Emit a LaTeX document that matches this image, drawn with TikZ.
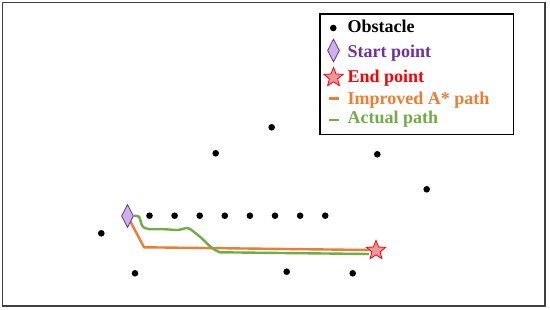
\documentclass[tikz,border=0pt]{standalone}
\usepackage{fontspec}
\setmainfont{Liberation Serif}
\usetikzlibrary{shapes.geometric, backgrounds, positioning}
\definecolor{framegray}{RGB}{64, 64, 64}
\definecolor{startpurple}{RGB}{112, 48, 160}
\definecolor{startfill}{RGB}{204, 178, 232}
\definecolor{endred}{RGB}{255, 0, 0}
\definecolor{endfill}{RGB}{240, 150, 160}
\definecolor{astarorange}{RGB}{237, 125, 49}
\definecolor{actualgreen}{RGB}{112, 173, 71}

\begin{document}
\begin{tikzpicture}[
    x=1pt, y=-1pt,
    obstacle/.style={circle, fill=black, inner sep=0pt, minimum size=6.6pt},
    startmark/.style={diamond, draw=startpurple, fill=startfill, line width=0.8pt,
      inner sep=0pt, minimum width=12pt, minimum height=23pt},
    endmark/.style={star, star points=5, star point ratio=2.3, draw=endred, fill=endfill,
      line width=0.8pt, inner sep=0pt, minimum size=20pt},
    legendtext/.style={anchor=base west, inner sep=0pt,
      font=\bfseries\fontsize{18}{20}\selectfont},
    astarpath/.style={draw=astarorange, line width=2.4pt},
    actualpath/.style={draw=actualgreen, line width=2.4pt},
  ]
  \useasboundingbox (0,0) rectangle (550,310);
  \draw[framegray, line width=1.3pt] (2.7,2.7) rectangle (545,306);

  % obstacles
  \foreach \i in {0,...,7}
    \node[obstacle] (row\i) at (149.5+25.1*\i, 215.7) {};
  \foreach \p/\q [count=\k] in {101.3/233.3, 135/273.3, 286.7/271.7, 352.7/273.3,
                                271.7/127.3, 215.7/153.3, 377.3/154.3, 426.7/189.3}
    \node[obstacle] (obs\k) at (\p,\q) {};

  % start and end
  \node[startmark] (start) at (127.5,216) {};
  \node[endmark] (goal) at (376,250.5) {};

  % paths
  \coordinate (turn) at (144,247.3);
  \coordinate (goalA) at (369,250);
  \coordinate (goalB) at (369,254);
  \begin{scope}[on background layer]
    \draw[astarpath] (start.center) -- (turn) -- (goalA);
    \draw[actualpath, line join=round] plot[smooth, tension=0.5] coordinates {
        (start.east) (139,216.7) (142.3,226) (148.3,229) (165,229.3) (178.3,230)
        (185,228.3) (190,229) (201.7,238.3) (212.3,248.3) (220,252.3)}
      -- (goalB);
  \end{scope}

  % legend
  \draw[black, line width=1.3pt] (320,14) rectangle (513.3,134.5);
  \node[obstacle] (keyobs) at (333.3,28) {};
  \node[startmark] (keystart) at (333.5,50.5) {};
  \node[endmark] (keyend) at (333.5,77.5) {};
  \coordinate (keyorangeL) at (328.5,98.5);
  \coordinate (keyorangeR) at (339,98.5);
  \coordinate (keygreenL) at (328.5,120);
  \coordinate (keygreenR) at (339,120);
  \draw[astarpath] (keyorangeL) -- (keyorangeR);
  \draw[actualpath] (keygreenL) -- (keygreenR);
  \node[legendtext] (txtobs) at (347.5,33) {Obstacle};
  \node[legendtext, text=startpurple] (txtstart) at (347.5,58) {Start point};
  \node[legendtext, text=endred] (txtend) at (347.5,82.3) {End point};
  \node[legendtext, text=astarorange] (txtastar) at (347.5,104.7) {Improved A* path};
  \node[legendtext, text=actualgreen] (txtactual) at (347.5,124) {Actual path};
\end{tikzpicture}
\end{document}
